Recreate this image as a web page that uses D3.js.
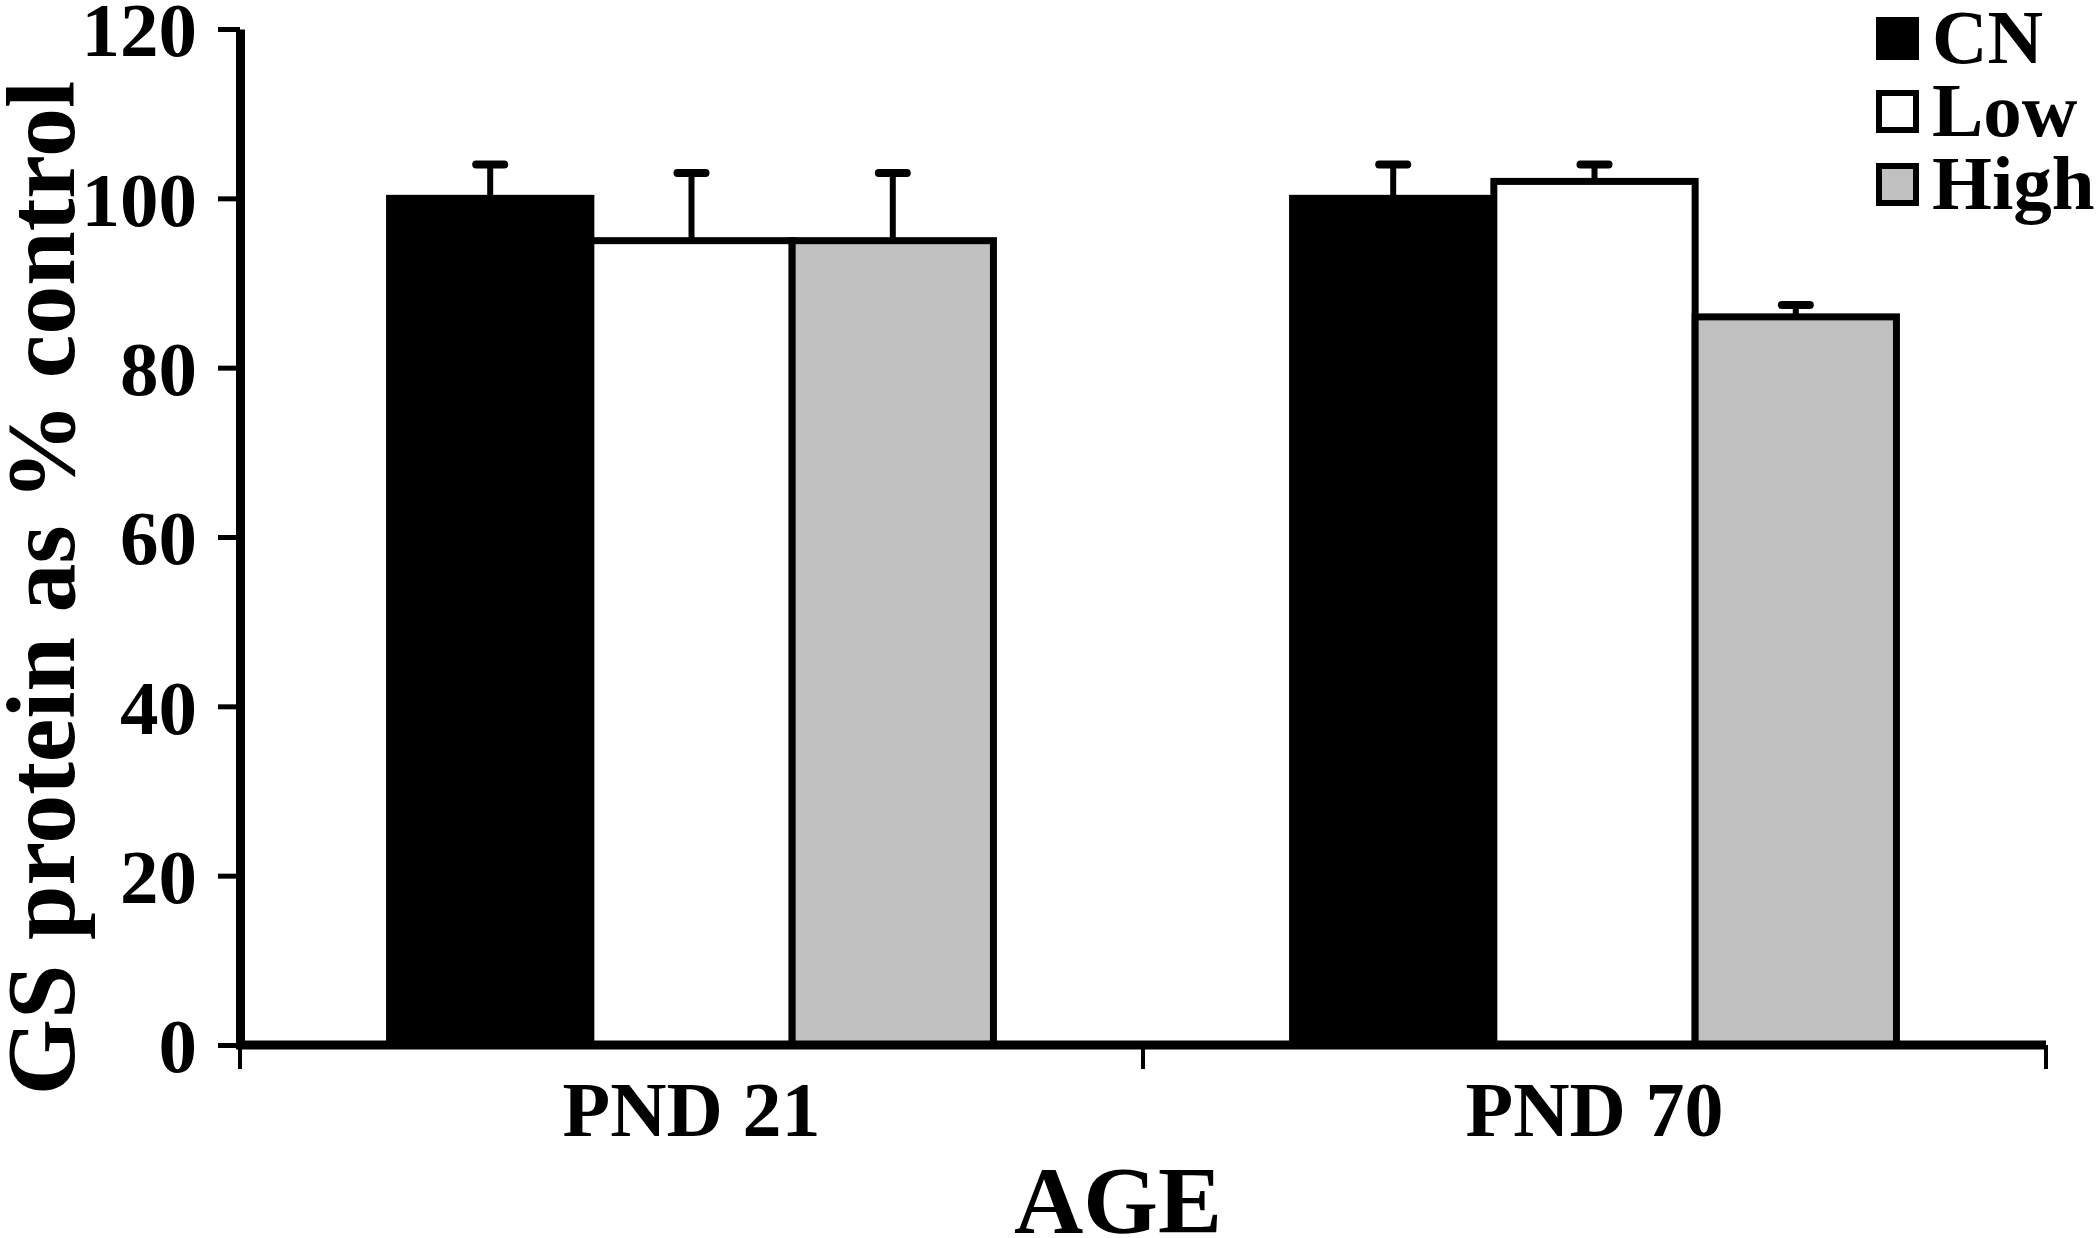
<!DOCTYPE html>
<html lang="en">
<head>
    <meta charset="UTF-8">
    <title>GS protein</title>
    <script src="https://cdn.jsdelivr.net/npm/d3@7"></script>
    <style>
        body{ margin: 0; background: #fff; }
        text{ font-family: "Liberation Serif", "Times New Roman", serif; font-weight: bold; fill: #000; }
    </style>
</head>
<body>
    <svg id="main-svg" width="2100" height="1238"></svg>

    <script>
        // data
        const ages = ['PND 21', 'PND 70'];
        const groups = ['CN', 'Low', 'High'];
        const colors = ['#000000', '#ffffff', '#c0c0c0'];
        const means = [
            [100, 95, 95],
            [100, 102, 86]
        ];
        const errs = [
            [4, 8, 8],
            [4, 2, 1.4]
        ];
        const yTicks = [0, 20, 40, 60, 80, 100, 120];

        const svg = d3.select('#main-svg');

        const mLeft = 240, mRight = 2046, mTop = 29, mBottom = 1045;

        let y = d3.scaleLinear().domain([0, 120]).range([mBottom, mTop]);
        let x0 = d3.scaleBand().domain(ages).range([mLeft, mRight]).padding(0);
        let x1 = d3.scaleBand().domain(groups).range([0, x0.bandwidth()])
            .paddingInner(0).paddingOuter(0.743);

        // bars
        let rows = [];
        ages.forEach((a, i) => groups.forEach((g, j) => {
            rows.push({age: a, group: g, v: means[i][j], e: errs[i][j], c: colors[j]});
        }));

        let mid = d => x0(d.age) + x1(d.group) + x1.bandwidth()/2;

        // error bars (drawn first, bar tops cover the base)
        let eb = svg.append('g');
        eb.selectAll('line.stem')
            .data(rows)
            .enter()
            .append('line')
            .attr('x1', mid)
            .attr('x2', mid)
            .attr('y1', d => y(d.v))
            .attr('y2', d => y(d.v + d.e))
            .style('stroke', '#000')
            .style('stroke-width', 6);
        eb.selectAll('line.cap')
            .data(rows)
            .enter()
            .append('line')
            .attr('x1', d => mid(d) - 14)
            .attr('x2', d => mid(d) + 14)
            .attr('y1', d => y(d.v + d.e))
            .attr('y2', d => y(d.v + d.e))
            .style('stroke', '#000')
            .style('stroke-width', 8)
            .style('stroke-linecap', 'round');

        svg.append('g').selectAll('rect')
            .data(rows)
            .enter()
            .append('rect')
            .attr('x', d => x0(d.age) + x1(d.group))
            .attr('y', d => y(d.v))
            .attr('width', x1.bandwidth())
            .attr('height', d => y(0) - y(d.v))
            .style('fill', d => d.c)
            .style('stroke', '#000')
            .style('stroke-width', 7);

        // y axis
        let yAxis = svg.append('g')
            .attr('transform', 'translate(' + mLeft + ',0)')
            .call(d3.axisLeft(y).tickValues(yTicks).tickSize(22).tickSizeOuter(0).tickPadding(21));
        yAxis.select('.domain').style('stroke', '#000').style('stroke-width', 9);
        yAxis.selectAll('.tick line').style('stroke', '#000').style('stroke-width', 5);
        yAxis.selectAll('.tick text')
            .style('font-size', '77px')
            .style('font-family', '"Liberation Serif", serif')
            .style('font-weight', 'bold')
            .attr('dy', '0.35em');

        // x axis
        let xAxis = svg.append('g')
            .attr('transform', 'translate(0,' + mBottom + ')')
            .call(d3.axisBottom(x0).tickSize(0).tickSizeOuter(0).tickPadding(0));
        xAxis.select('.domain').style('stroke', '#000').style('stroke-width', 9)
            .attr('d', 'M' + (mLeft - 4) + ',0H' + mRight);
        xAxis.selectAll('.tick text')
            .style('font-size', '78px')
            .style('font-family', '"Liberation Serif", serif')
            .style('font-weight', 'bold')
            .attr('y', 91)
            .attr('dy', 0);

        let bounds = [mLeft].concat(ages.map(a => x0(a) + x0.bandwidth()));
        svg.append('g').selectAll('line')
            .data(bounds)
            .enter()
            .append('line')
            .attr('x1', d => d).attr('x2', d => d)
            .attr('y1', mBottom).attr('y2', mBottom + 24)
            .style('stroke', '#000')
            .style('stroke-width', 4);

        // titles
        svg.append('text')
            .attr('x', (mLeft + mRight) / 2 - 25)
            .attr('y', 1233)
            .attr('text-anchor', 'middle')
            .style('font-size', '96px')
            .text('AGE');

        svg.append('text')
            .attr('transform', 'translate(74,588) rotate(-90)')
            .attr('text-anchor', 'middle')
            .style('font-size', '98px')
            .text('GS protein as % control');

        // legend
        let lg = svg.append('g').attr('transform', 'translate(1876,0)');
        let li = lg.selectAll('g')
            .data(groups)
            .enter()
            .append('g')
            .attr('transform', (d, i) => 'translate(0,' + (17 + i * 73) + ')');
        li.append('rect')
            .attr('x', 3).attr('y', 3)
            .attr('width', 37).attr('height', 37)
            .style('fill', (d, i) => colors[i])
            .style('stroke', '#000')
            .style('stroke-width', 6);
        li.append('text')
            .attr('x', 56)
            .attr('y', 46)
            .style('font-size', '77px')
            .text(d => d);
    </script>
</body>
</html>
